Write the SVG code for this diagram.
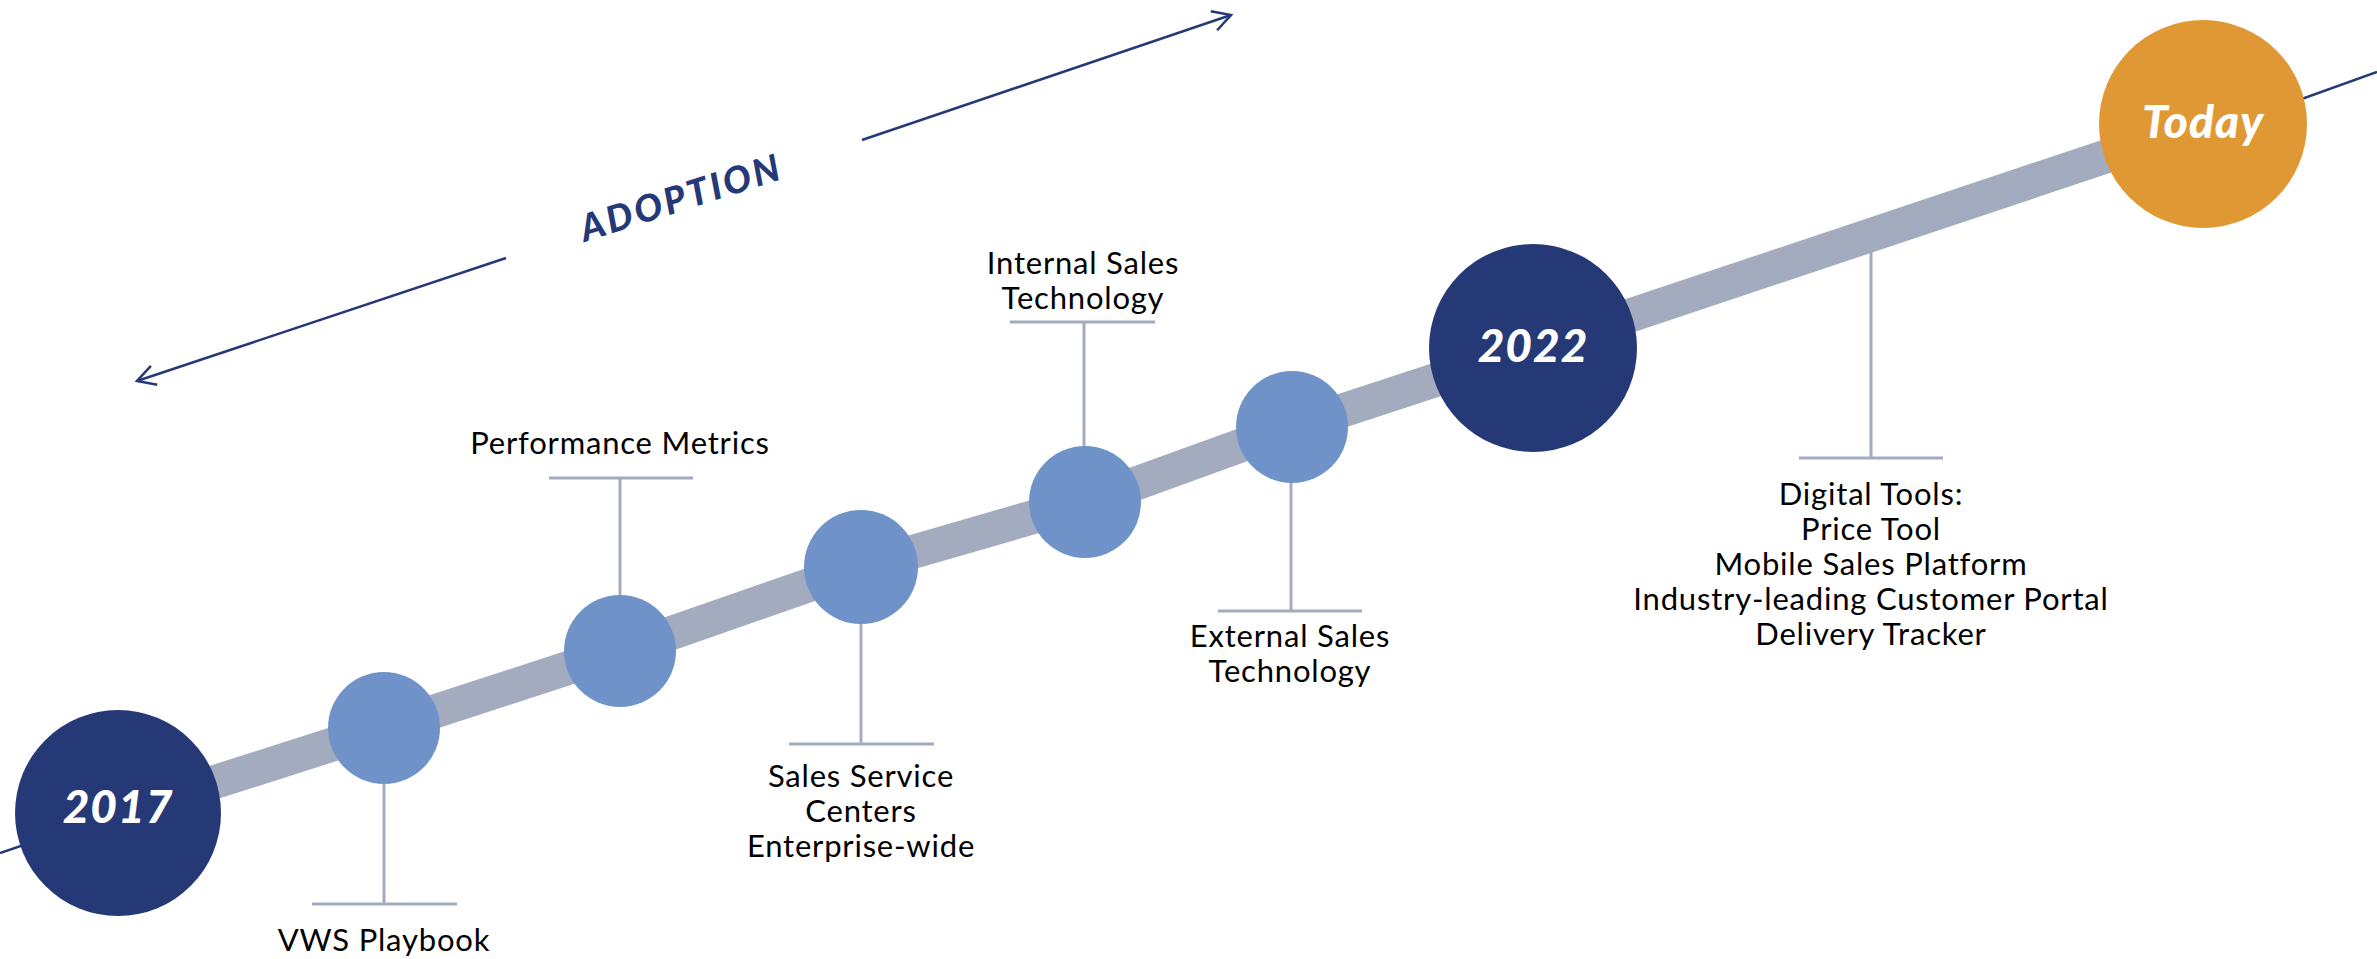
<svg xmlns="http://www.w3.org/2000/svg" width="2377" height="959" viewBox="0 0 2377 959">
<style>
.lbl{font-family:Lato,"Liberation Sans",sans-serif;font-size:31px;font-weight:400;letter-spacing:0.8px;fill:#000;text-anchor:middle}
.yr{font-family:Lato,"Liberation Sans",sans-serif;font-size:46px;font-weight:900;font-style:italic;letter-spacing:1px;fill:#fff;text-anchor:middle}
.adopt{font-family:Lato,"Liberation Sans",sans-serif;font-size:37px;font-weight:900;font-style:italic;letter-spacing:3px;fill:#263977;text-anchor:middle}
.tick{stroke:#A3ACBF;stroke-width:3;fill:none}
.thin{stroke:#263977;stroke-width:2.5;fill:none}
.big{fill:#263977}
.small{fill:#6F93C8}
</style>
<defs>
<marker id="chev" markerUnits="userSpaceOnUse" viewBox="-22 -12 26 24" refX="0" refY="0" markerWidth="26" markerHeight="24" orient="auto">
<path d="M-18,-10 L0,0 L-18,10" fill="none" stroke="#263977" stroke-width="2.5"/>
</marker>
</defs>
<rect width="2377" height="959" fill="#fff"/>
<g id="connectors">
<line class="thin" x1="0" y1="853" x2="118" y2="813"/>
<line class="thin" x1="2260" y1="114" x2="2377" y2="72"/>
<path d="M118,813 L384,728 L620,651 L861,567 L1085,502 L1292,427 L1533,348 L2203,124" fill="none" stroke="#A3ACBF" stroke-width="34"/>
<line class="thin" x1="506" y1="258" x2="137" y2="381" marker-end="url(#chev)"/>
<line class="thin" x1="862" y1="140" x2="1231" y2="15" marker-end="url(#chev)"/>
<path class="tick" d="M384,784 V904 M312,904 H457"/>
<path class="tick" d="M620,595 V478 M549,478 H693"/>
<path class="tick" d="M861,624 V744 M789,744 H934"/>
<path class="tick" d="M1084,446 V322 M1010,322 H1155"/>
<path class="tick" d="M1291,483 V611 M1218,611 H1362"/>
<path class="tick" d="M1871,245 V458 M1799,458 H1943"/>
</g>
<text class="adopt" transform="translate(685,210) rotate(-17.7)">ADOPTION</text>
<g id="n2017"><circle class="big" cx="118" cy="813" r="103"/><text class="yr" x="118" y="823">2017</text></g>
<g id="n-vws"><circle class="small" cx="384" cy="728" r="56"/><text class="lbl" x="384" y="951">VWS Playbook</text></g>
<g id="n-perf"><circle class="small" cx="620" cy="651" r="56"/><text class="lbl" x="620" y="454">Performance Metrics</text></g>
<g id="n-ssc"><circle class="small" cx="861" cy="567" r="57"/><text class="lbl" x="861" y="787">Sales Service</text><text class="lbl" x="861" y="822">Centers</text><text class="lbl" x="861" y="857">Enterprise-wide</text></g>
<g id="n-int"><circle class="small" cx="1085" cy="502" r="56"/><text class="lbl" x="1083" y="274">Internal Sales</text><text class="lbl" x="1083" y="309">Technology</text></g>
<g id="n-ext"><circle class="small" cx="1292" cy="427" r="56"/><text class="lbl" x="1290" y="647">External Sales</text><text class="lbl" x="1290" y="682">Technology</text></g>
<g id="n2022"><circle class="big" cx="1533" cy="348" r="104"/><text class="yr" x="1533" y="362">2022</text></g>
<g id="n-today"><circle cx="2203" cy="124" r="104" fill="#E09835"/><text class="yr" x="2203" y="138">Today</text></g>
<g id="n-digital"><text class="lbl" x="1871" y="505">Digital Tools:</text><text class="lbl" x="1871" y="540">Price Tool</text><text class="lbl" x="1871" y="575">Mobile Sales Platform</text><text class="lbl" x="1871" y="610">Industry-leading Customer Portal</text><text class="lbl" x="1871" y="645">Delivery Tracker</text></g>
</svg>
